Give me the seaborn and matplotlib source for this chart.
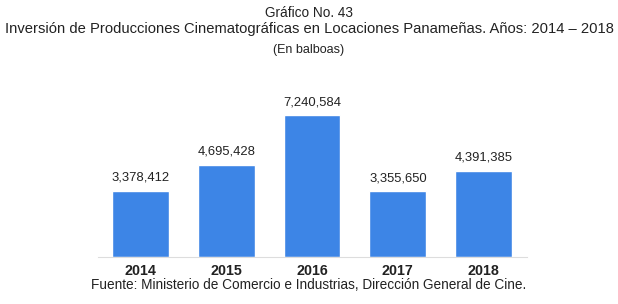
import matplotlib
matplotlib.use("Agg")
import matplotlib.pyplot as plt
import seaborn as sns
import pandas as pd

years = ["2014", "2015", "2016", "2017", "2018"]
inversion = [3378412, 4695428, 7240584, 3355650, 4391385]
value_labels = ["3,378,412", "4,695,428", "7,240,584", "3,355,650", "4,391,385"]

sns.set_theme(style="white")
plt.rcParams["font.family"] = ["Liberation Sans", "DejaVu Sans"]

df = pd.DataFrame({"Año": years, "Inversión": inversion})

fig = plt.figure(figsize=(6.18, 3.04), dpi=100)
ax = fig.add_axes([97.5 / 618, 1 - 257 / 304, 429 / 618, 157 / 304])

sns.barplot(data=df, x="Año", y="Inversión", color="#3d85e6", saturation=1,
            width=0.66, ax=ax)
ax.set_ylim(0, 7240584 * 157 / 142)

for i, (v, lab) in enumerate(zip(inversion, value_labels)):
    ax.annotate(lab, (i, v), xytext=(0, 5), textcoords="offset points",
                ha="center", va="bottom", fontsize=9.4, color="#222222")

sns.despine(ax=ax, left=True, top=True, right=True)
ax.spines["bottom"].set_color("#dddddd")
ax.spines["bottom"].set_linewidth(0.8)
ax.set_yticks([])
ax.set_xlabel("")
ax.set_ylabel("")
ax.tick_params(axis="x", length=0, pad=5, labelsize=10.3, labelcolor="#222222")
for t in ax.get_xticklabels():
    t.set_fontweight("bold")

fig.text(0.5, 1 - 13 / 304, "Gráfico No. 43", ha="center", va="center",
         fontsize=9.8, color="#222222")
fig.text(0.5, 1 - 29 / 304,
         "Inversión de Producciones Cinematográficas en Locaciones Panameñas. Años: 2014 – 2018",
         ha="center", va="center", fontsize=10.6, color="#222222")
fig.text(0.5, 1 - 50 / 304, "(En balboas)", ha="center", va="center",
         fontsize=9.0, color="#222222")
fig.text(0.5, 1 - 285 / 304,
         "Fuente: Ministerio de Comercio e Industrias, Dirección General de Cine.",
         ha="center", va="center", fontsize=9.8, color="#222222")

fig.savefig("out.png", dpi=100)
